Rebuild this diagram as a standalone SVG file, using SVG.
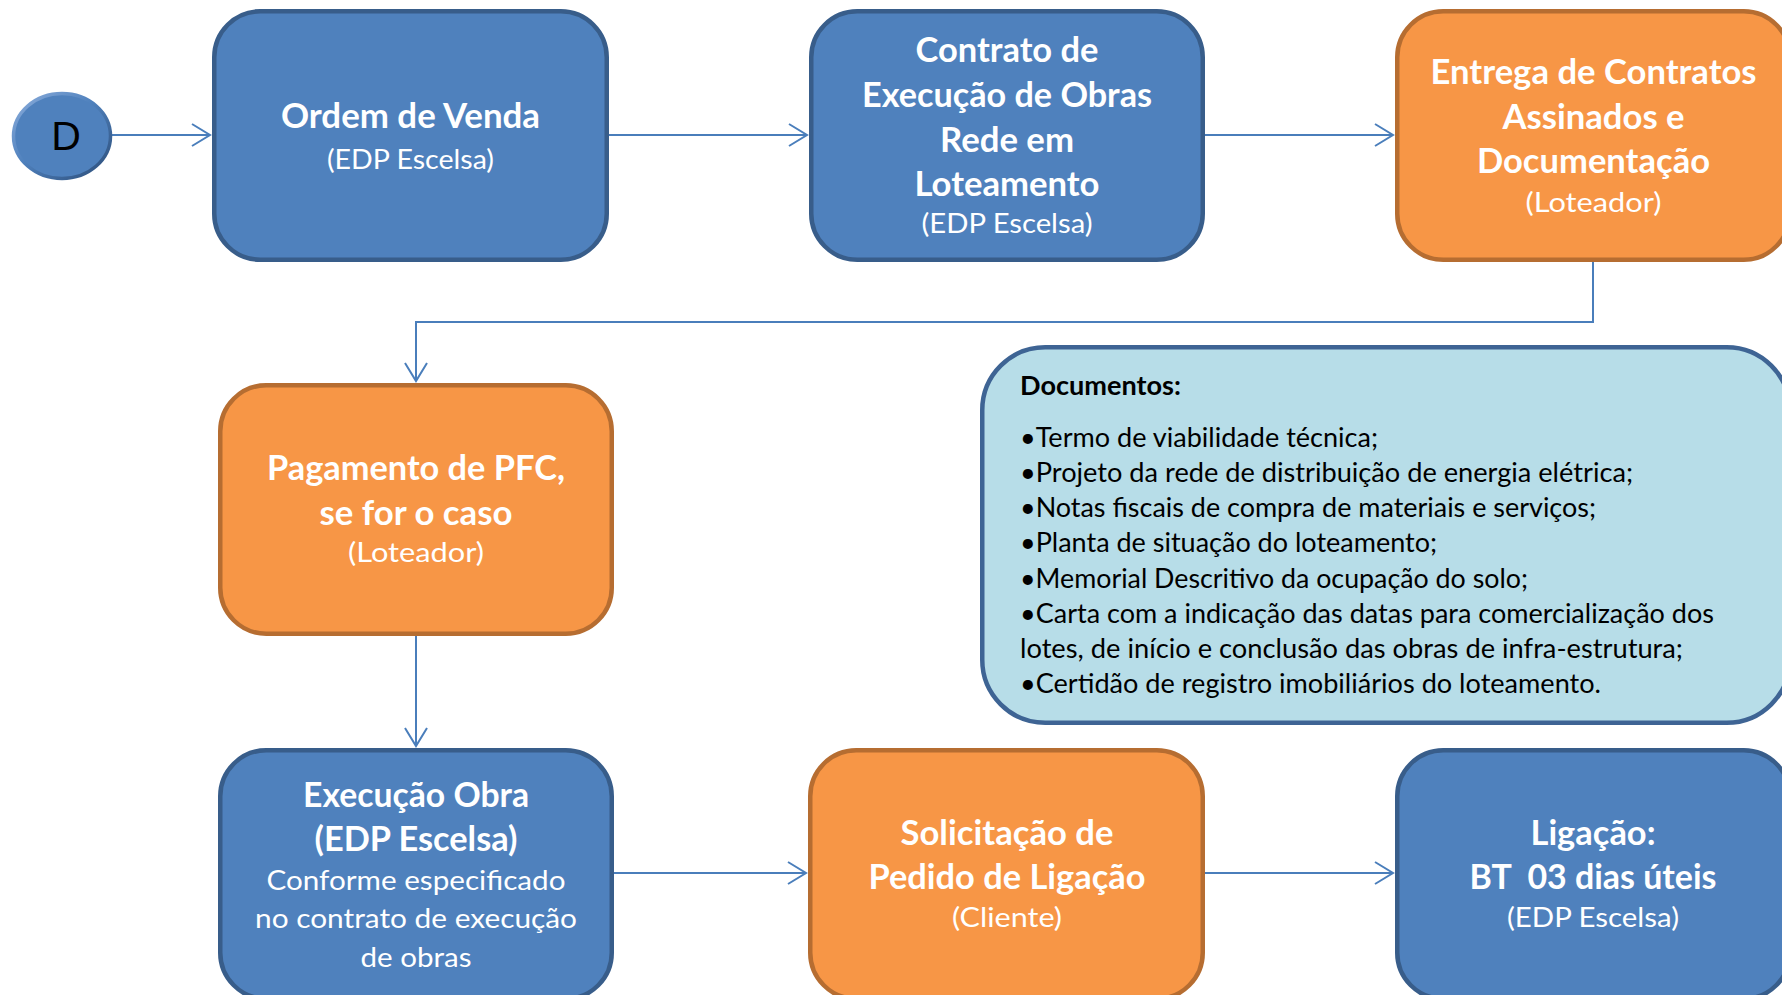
<svg xmlns="http://www.w3.org/2000/svg" width="1782" height="995" viewBox="0 0 1782 995">
<style>
.blue rect{fill:#4F81BD;stroke:#385D8A;stroke-width:4.5}
.orange rect{fill:#F79646;stroke:#B66D31;stroke-width:4.5}
.docs rect{fill:#B7DDE8;stroke:#3E6494;stroke-width:4.5}
text{font-family:Lato,"Open Sans","Liberation Sans",sans-serif}
.t{font-weight:700;font-size:35px;fill:#FFFFFF;text-anchor:middle}
.s{font-weight:400;font-size:27px;fill:#FFFFFF;text-anchor:middle}
.d{font-weight:400;font-size:27px;fill:#000000}
.db{font-weight:700;font-size:26px;fill:#000000}
.conn path{fill:none;stroke:#4A7EBB;stroke-width:2}
</style>
<defs>
<marker id="arr" markerUnits="userSpaceOnUse" markerWidth="24" markerHeight="28" refX="19" refY="12" orient="auto" overflow="visible">
<path d="M1,1 L19,12 L1,23" fill="none" stroke="#4A7EBB" stroke-width="2"/>
</marker>
<linearGradient id="rim" x1="0" y1="0" x2="1" y2="1">
<stop offset="0" stop-color="#8DAEDC"/>
<stop offset="0.45" stop-color="#4F81BD"/>
<stop offset="1" stop-color="#2C4D78"/>
</linearGradient>
</defs>

<g id="connectors" class="conn">
<path d="M112,135 H210" marker-end="url(#arr)"/>
<path d="M609,135 H807" marker-end="url(#arr)"/>
<path d="M1205,135 H1393" marker-end="url(#arr)"/>
<path d="M1593,262 V322 H416 V381" marker-end="url(#arr)"/>
<path d="M416,634 V746" marker-end="url(#arr)"/>
<path d="M614,873 H806" marker-end="url(#arr)"/>
<path d="M1205,873 H1393" marker-end="url(#arr)"/>
</g>

<g id="start">
<ellipse cx="62" cy="136" rx="48.5" ry="42.5" fill="#4F81BD" stroke="url(#rim)" stroke-width="3.5"/>
<text x="66" y="149.5" style="font-family:'Liberation Sans',Arial,sans-serif;font-size:41px;fill:#000;text-anchor:middle">D</text>
</g>

<g id="ordem" class="blue">
<rect x="214.25" y="11.25" width="392.5" height="248.5" rx="46"/>
<text class="t" x="410.5" y="128" textLength="259" lengthAdjust="spacingAndGlyphs">Ordem de Venda</text>
<text class="s" x="410.5" y="169" textLength="167" lengthAdjust="spacingAndGlyphs">(EDP Escelsa)</text>
</g>

<g id="contrato" class="blue">
<rect x="811.25" y="11.25" width="391.5" height="248.5" rx="46"/>
<text class="t" x="1007" y="62" textLength="183" lengthAdjust="spacingAndGlyphs">Contrato de</text>
<text class="t" x="1007" y="107" textLength="290" lengthAdjust="spacingAndGlyphs">Execução de Obras</text>
<text class="t" x="1007" y="152" textLength="134" lengthAdjust="spacingAndGlyphs">Rede em</text>
<text class="t" x="1007" y="196" textLength="185" lengthAdjust="spacingAndGlyphs">Loteamento</text>
<text class="s" x="1007" y="233" textLength="171" lengthAdjust="spacingAndGlyphs">(EDP Escelsa)</text>
</g>

<g id="entrega" class="orange">
<rect x="1397.25" y="11.25" width="392.5" height="248.5" rx="46"/>
<text class="t" x="1593.5" y="84" textLength="326" lengthAdjust="spacingAndGlyphs">Entrega de Contratos</text>
<text class="t" x="1593.5" y="128.5" textLength="182" lengthAdjust="spacingAndGlyphs">Assinados e</text>
<text class="t" x="1593.5" y="173" textLength="233" lengthAdjust="spacingAndGlyphs">Documentação</text>
<text class="s" x="1593.5" y="212" textLength="136" lengthAdjust="spacingAndGlyphs">(Loteador)</text>
</g>

<g id="pagamento" class="orange">
<rect x="220.25" y="385.25" width="391.5" height="248.5" rx="46"/>
<text class="t" x="416" y="480" textLength="298" lengthAdjust="spacingAndGlyphs">Pagamento de PFC,</text>
<text class="t" x="416" y="525" textLength="193" lengthAdjust="spacingAndGlyphs">se for o caso</text>
<text class="s" x="416" y="562" textLength="136" lengthAdjust="spacingAndGlyphs">(Loteador)</text>
</g>

<g id="documentos" class="docs">
<rect x="982.25" y="347.25" width="807.5" height="375.5" rx="63"/>
<text class="db" x="1020" y="395" textLength="161" lengthAdjust="spacingAndGlyphs">Documentos:</text>
<text class="d" x="1020" y="447" textLength="358" lengthAdjust="spacingAndGlyphs">•Termo de viabilidade técnica;</text>
<text class="d" x="1020" y="482" textLength="613" lengthAdjust="spacingAndGlyphs">•Projeto da rede de distribuição de energia elétrica;</text>
<text class="d" x="1020" y="517" textLength="576" lengthAdjust="spacingAndGlyphs">•Notas fiscais de compra de materiais e serviços;</text>
<text class="d" x="1020" y="552" textLength="417" lengthAdjust="spacingAndGlyphs">•Planta de situação do loteamento;</text>
<text class="d" x="1020" y="587.5" textLength="508" lengthAdjust="spacingAndGlyphs">•Memorial Descritivo da ocupação do solo;</text>
<text class="d" x="1020" y="623" textLength="694" lengthAdjust="spacingAndGlyphs">•Carta com a indicação das datas para comercialização dos</text>
<text class="d" x="1020" y="658" textLength="663" lengthAdjust="spacingAndGlyphs">lotes, de início e conclusão das obras de infra-estrutura;</text>
<text class="d" x="1020" y="693" textLength="581" lengthAdjust="spacingAndGlyphs">•Certidão de registro imobiliários do loteamento.</text>
</g>

<g id="execucao" class="blue">
<rect x="220.25" y="750.25" width="391.5" height="248.5" rx="46"/>
<text class="t" x="416" y="807" textLength="226" lengthAdjust="spacingAndGlyphs">Execução Obra</text>
<text class="t" x="416" y="851" textLength="203" lengthAdjust="spacingAndGlyphs">(EDP Escelsa)</text>
<text class="s" x="416" y="890" textLength="299" lengthAdjust="spacingAndGlyphs">Conforme especificado</text>
<text class="s" x="416" y="928" textLength="322" lengthAdjust="spacingAndGlyphs">no contrato de execução</text>
<text class="s" x="416" y="967" textLength="111" lengthAdjust="spacingAndGlyphs">de obras</text>
</g>

<g id="solicitacao" class="orange">
<rect x="810.25" y="750.25" width="392.5" height="248.5" rx="46"/>
<text class="t" x="1007" y="845" textLength="213" lengthAdjust="spacingAndGlyphs">Solicitação de</text>
<text class="t" x="1007" y="889" textLength="277" lengthAdjust="spacingAndGlyphs">Pedido de Ligação</text>
<text class="s" x="1007" y="927" textLength="110" lengthAdjust="spacingAndGlyphs">(Cliente)</text>
</g>

<g id="ligacao" class="blue">
<rect x="1397.25" y="750.25" width="392.5" height="248.5" rx="46"/>
<text class="t" x="1593" y="845" textLength="125" lengthAdjust="spacingAndGlyphs">Ligação:</text>
<text class="t" x="1593" y="889" textLength="247" lengthAdjust="spacingAndGlyphs" xml:space="preserve">BT  03 dias úteis</text>
<text class="s" x="1593" y="927" textLength="172" lengthAdjust="spacingAndGlyphs">(EDP Escelsa)</text>
</g>
</svg>
